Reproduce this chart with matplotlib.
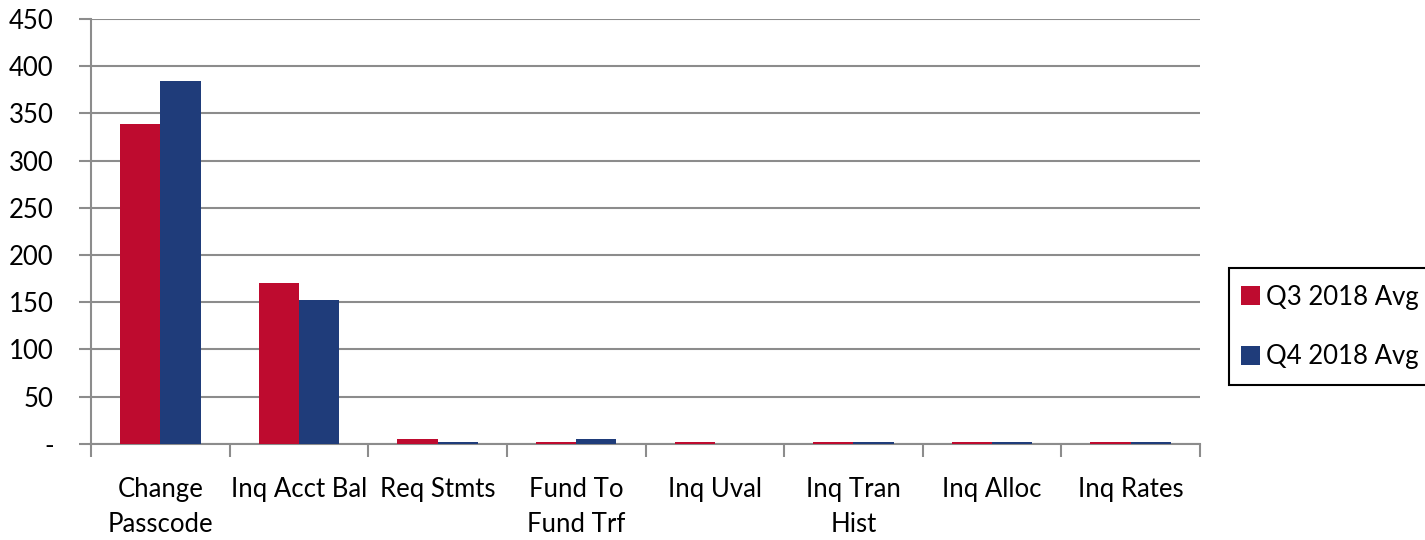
import numpy as np
import matplotlib
matplotlib.use('Agg')
import matplotlib.pyplot as plt
from matplotlib.patches import Rectangle
from matplotlib.ticker import FixedLocator, FuncFormatter

categories = ['Change\nPasscode', 'Inq Acct Bal', 'Req Stmts', 'Fund To\nFund Trf',
              'Inq Uval', 'Inq Tran\nHist', 'Inq Alloc', 'Inq Rates']
q3_avg = [339, 170, 5, 2, 2, 2, 2, 2]
q4_avg = [384, 152, 2, 5, 0, 2, 2, 2]
series_names = ['Q3 2018 Avg', 'Q4 2018 Avg']

RED = '#BE0B2F'
BLUE = '#1F3C7A'
GRID = '#8C8C8C'
FS = 18.5

plt.rcParams['font.family'] = ['Lato', 'DejaVu Sans']

fig = plt.figure(figsize=(14.25, 5.4), dpi=100)
ax = fig.add_axes([0.064, 0.178, 0.778, 0.787])

x = np.arange(len(categories))
w = 0.29
ax.bar(x - w / 2, q3_avg, w, color=RED, label=series_names[0], zorder=3)
ax.bar(x + w / 2, q4_avg, w, color=BLUE, label=series_names[1], zorder=3)

ax.set_xlim(-0.5, len(categories) - 0.5)
ax.set_ylim(0, 450)
ax.set_yticks(np.arange(0, 451, 50))
ax.yaxis.set_major_formatter(FuncFormatter(lambda v, p: '-' if v == 0 else f'{int(v)}'))
ax.yaxis.grid(True, color=GRID, linewidth=1.5, zorder=0)

ax.set_xticks(x)
ax.set_xticklabels(categories, fontsize=FS, linespacing=1.5)
ax.tick_params(axis='x', length=0, pad=24)
ax.xaxis.set_minor_locator(FixedLocator(np.arange(-0.5, len(categories), 1)))
ax.tick_params(axis='x', which='minor', length=9, width=1.5, color=GRID)
ax.tick_params(axis='y', labelsize=FS, length=9, width=1.5, color=GRID, pad=18)

for s in ['top', 'right']:
    ax.spines[s].set_visible(False)
for s in ['left', 'bottom']:
    ax.spines[s].set_color(GRID)
    ax.spines[s].set_linewidth(1.5)

# legend box drawn separately; in the original it runs off the right edge
fig.patches.append(Rectangle((0.8625, 0.287), 0.2, 0.2167, transform=fig.transFigure,
                             facecolor='white', edgecolor='black', linewidth=1.5))
leg = fig.legend(loc='center', bbox_to_anchor=(0.9333, 0.3944), fontsize=18.5,
                 frameon=False, handlelength=0.75, handleheight=0.75,
                 handletextpad=0.25, labelspacing=1.35, borderpad=0, borderaxespad=0)

fig.savefig('out.png', dpi=100)
